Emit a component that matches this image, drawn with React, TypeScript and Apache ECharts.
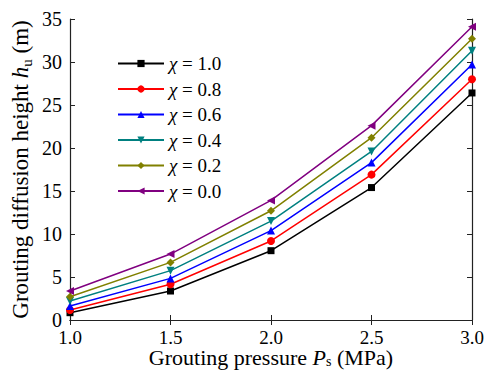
import React, { useEffect, useRef } from "react";
import * as echarts from "echarts";

const pressures = [1.0, 1.5, 2.0, 2.5, 3.0];
const seriesNames = ["χ = 1.0", "χ = 0.8", "χ = 0.6", "χ = 0.4", "χ = 0.2", "χ = 0.0"];
const chi10 = [0.85, 3.37, 8.06, 15.4, 26.4];
const chi08 = [1.16, 4.15, 9.19, 16.9, 28.0];
const chi06 = [1.63, 4.84, 10.4, 18.3, 29.7];
const chi04 = [2.2, 5.74, 11.5, 19.6, 31.3];
const chi02 = [2.7, 6.7, 12.7, 21.2, 32.7];
const chi00 = [3.37, 7.67, 13.9, 22.6, 34.1];
const allValues = [chi10, chi08, chi06, chi04, chi02, chi00];
const colors = ["#000000", "#ff0000", "#0000ff", "#008080", "#808000", "#800080"];
const symbols = [
  "rect",
  "circle",
  "triangle",
  "path://M0,0 L10,0 L5,10 Z",
  "diamond",
  "path://M0,5 L10,0 L10,10 Z",
];
const symbolSizes = [7, 8, 8, 8, 8, 8];

const FONT = "Liberation Serif";

export default function App() {
  const ref = useRef<HTMLDivElement>(null);
  useEffect(() => {
    if (!ref.current) return;
    const chart = echarts.init(ref.current, null, { renderer: "svg" });
    const axisLine = { show: true, lineStyle: { color: "#222", width: 1.2 } };
    const tick = { show: true, inside: true, length: 5, lineStyle: { color: "#222" } };
    const series = allValues.map((vals, i) => ({
      name: seriesNames[i],
      type: "line",
      data: vals.map((v, j) => [pressures[j], v]),
      symbol: symbols[i],
      symbolSize: symbolSizes[i],
      showAllSymbol: true,
      lineStyle: { color: colors[i], width: 1.5 },
      itemStyle: { color: colors[i] },
      xAxisIndex: 0,
      yAxisIndex: 0,
    }));
    chart.setOption({
      animation: false,
      backgroundColor: "#ffffff",
      textStyle: { fontFamily: FONT },
      grid: {
        left: 70,
        right: 20,
        top: 19,
        bottom: 52,
        containLabel: false,
        outerBoundsMode: "none",
      },
      legend: {
        orient: "vertical",
        left: 112,
        top: 49,
        itemWidth: 46,
        itemHeight: 9,
        itemGap: 6.5,
        data: seriesNames,
        textStyle: {
          fontFamily: FONT,
          fontSize: 19,
          color: "#000",
          rich: {
            i: { fontFamily: FONT, fontStyle: "italic", fontSize: 19, color: "#000" },
            t: { fontFamily: FONT, fontSize: 19, color: "#000" },
          },
        },
        formatter: (name: string) => "{i|χ}{t|" + name.slice(1) + "}",
      },
      xAxis: [
        {
          type: "value",
          min: 1,
          max: 3,
          interval: 0.5,
          axisLine,
          axisTick: tick,
          splitLine: { show: false },
          axisLabel: {
            fontFamily: FONT,
            fontSize: 19,
            color: "#000",
            margin: 8,
            formatter: (v: number) => v.toFixed(1),
          },
          name: "Grouting pressure {i|P}{sub|s} (MPa)",
          nameLocation: "middle",
          nameGap: 26,
          nameMoveOverlap: false,
          nameTextStyle: {
            fontFamily: FONT,
            fontSize: 22,
            color: "#000",
            verticalAlign: "top",
            rich: {
              i: { fontFamily: FONT, fontStyle: "italic", fontSize: 22, color: "#000" },
              sub: { fontFamily: FONT, fontSize: 14, color: "#000", padding: [8, 0, 0, 0] },
            },
          },
        },
        {
          type: "value",
          position: "top",
          min: 1,
          max: 3,
          interval: 0.5,
          axisLine,
          axisTick: tick,
          axisLabel: { show: false },
          splitLine: { show: false },
        },
      ],
      yAxis: [
        {
          type: "value",
          min: 0,
          max: 35,
          interval: 5,
          axisLine,
          axisTick: tick,
          splitLine: { show: false },
          axisLabel: { fontFamily: FONT, fontSize: 20, color: "#000", margin: 8 },
          name: "Grouting diffusion height {i|h}{sub|u} (m)",
          nameLocation: "middle",
          nameRotate: 90,
          nameGap: 36,
          nameMoveOverlap: false,
          nameTextStyle: {
            fontFamily: FONT,
            fontSize: 23,
            color: "#000",
            rich: {
              i: { fontFamily: FONT, fontStyle: "italic", fontSize: 23, color: "#000" },
              sub: { fontFamily: FONT, fontSize: 15, color: "#000", padding: [12, 0, 0, 0] },
            },
          },
        },
        {
          type: "value",
          position: "right",
          min: 0,
          max: 35,
          interval: 5,
          axisLine,
          axisTick: tick,
          axisLabel: { show: false },
          splitLine: { show: false },
        },
      ],
      series,
    });
    return () => chart.dispose();
  }, []);
  return (
    <div
      ref={ref}
      style={{ position: "fixed", left: 0, top: 0, width: 492, height: 372 }}
    />
  );
}
